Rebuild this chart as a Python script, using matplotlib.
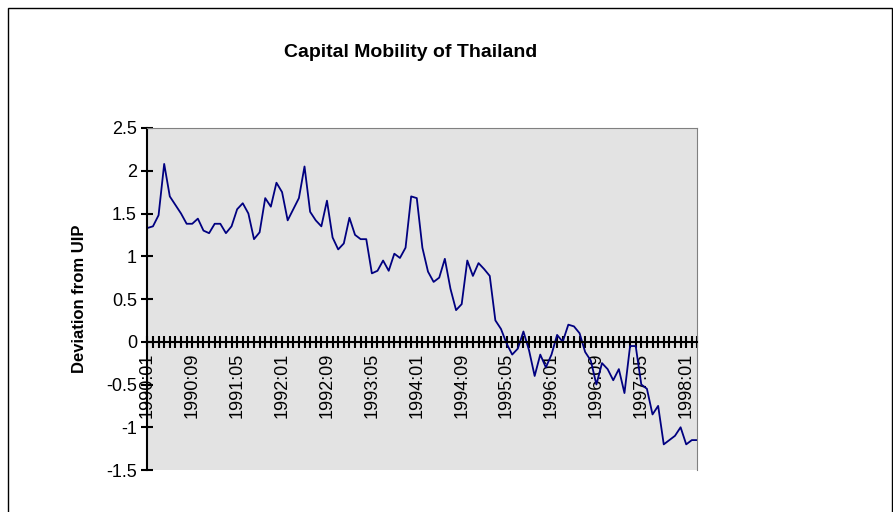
import matplotlib.pyplot as plt
import numpy as np

# Monthly deviation from UIP, 1990:01 onwards
values = [1.33, 1.35, 1.48, 2.08, 1.7, 1.6, 1.5, 1.38, 1.38, 1.44, 1.3, 1.27,
          1.38, 1.38, 1.27, 1.35, 1.55, 1.62, 1.5, 1.2, 1.28, 1.68, 1.58, 1.86,
          1.75, 1.42, 1.55, 1.68, 2.05, 1.52, 1.42, 1.35, 1.65, 1.22, 1.08, 1.15,
          1.45, 1.25, 1.2, 1.2, 0.8, 0.83, 0.95, 0.83, 1.03, 0.98, 1.1, 1.7,
          1.68, 1.1, 0.82, 0.7, 0.75, 0.97, 0.62, 0.37, 0.44, 0.95, 0.77, 0.92,
          0.85, 0.77, 0.25, 0.15, -0.02, -0.15, -0.08, 0.12, -0.1, -0.4, -0.15, -0.3,
          -0.15, 0.08, 0.0, 0.2, 0.18, 0.1, -0.12, -0.22, -0.5, -0.25, -0.32, -0.45,
          -0.32, -0.6, -0.05, -0.05, -0.5, -0.55, -0.85, -0.75, -1.2, -1.15, -1.1,
          -1.0, -1.2, -1.15, -1.15]
start_year = 1990
labels = [f"{start_year + i // 12}:{i % 12 + 1:02d}" for i in range(len(values))]

fig = plt.figure(figsize=(8.93, 5.12), dpi=100)
fig.patch.set_facecolor("white")
# outer chart border
fig.add_artist(plt.Rectangle((0.009, -0.01), 0.99, 0.995, transform=fig.transFigure,
                             fill=False, edgecolor="black", linewidth=1))

ax = fig.add_axes([0.165, 0.082, 0.616, 0.668])
ax.set_facecolor("#e3e3e3")
x = np.arange(len(values))
ax.plot(x, values, color="#000080", linewidth=1.3)

ax.set_xlim(0, len(values) - 1)
ax.set_ylim(-1.5, 2.5)
ax.set_yticks(np.arange(-1.5, 2.51, 0.5))
ax.set_yticklabels([f"{v:g}" for v in np.arange(-1.5, 2.51, 0.5)], fontsize=13,
                   family="Liberation Sans")

ax.spines["bottom"].set_position(("data", 0))
ax.spines["bottom"].set_linewidth(1.5)
ax.spines["left"].set_linewidth(1.5)
ax.spines["right"].set_color("#808080")
ax.spines["top"].set_color("#808080")

ax.set_xticks(x[::8])
ax.set_xticklabels(labels[::8], rotation=90, fontsize=13, family="Liberation Sans")
ax.set_xticks(x, minor=True)
ax.tick_params(axis="x", which="both", direction="inout", length=9, width=1.5)
ax.tick_params(axis="y", direction="inout", length=8, width=1.5)

ax.set_ylabel("Deviation from UIP", fontsize=12, fontweight="bold", family="Liberation Sans",
              labelpad=14)
fig.text(0.46, 0.898, "Capital Mobility of Thailand", ha="center", va="center",
         fontsize=14, fontweight="bold", family="Liberation Sans")

fig.savefig("out.png", dpi=100)
